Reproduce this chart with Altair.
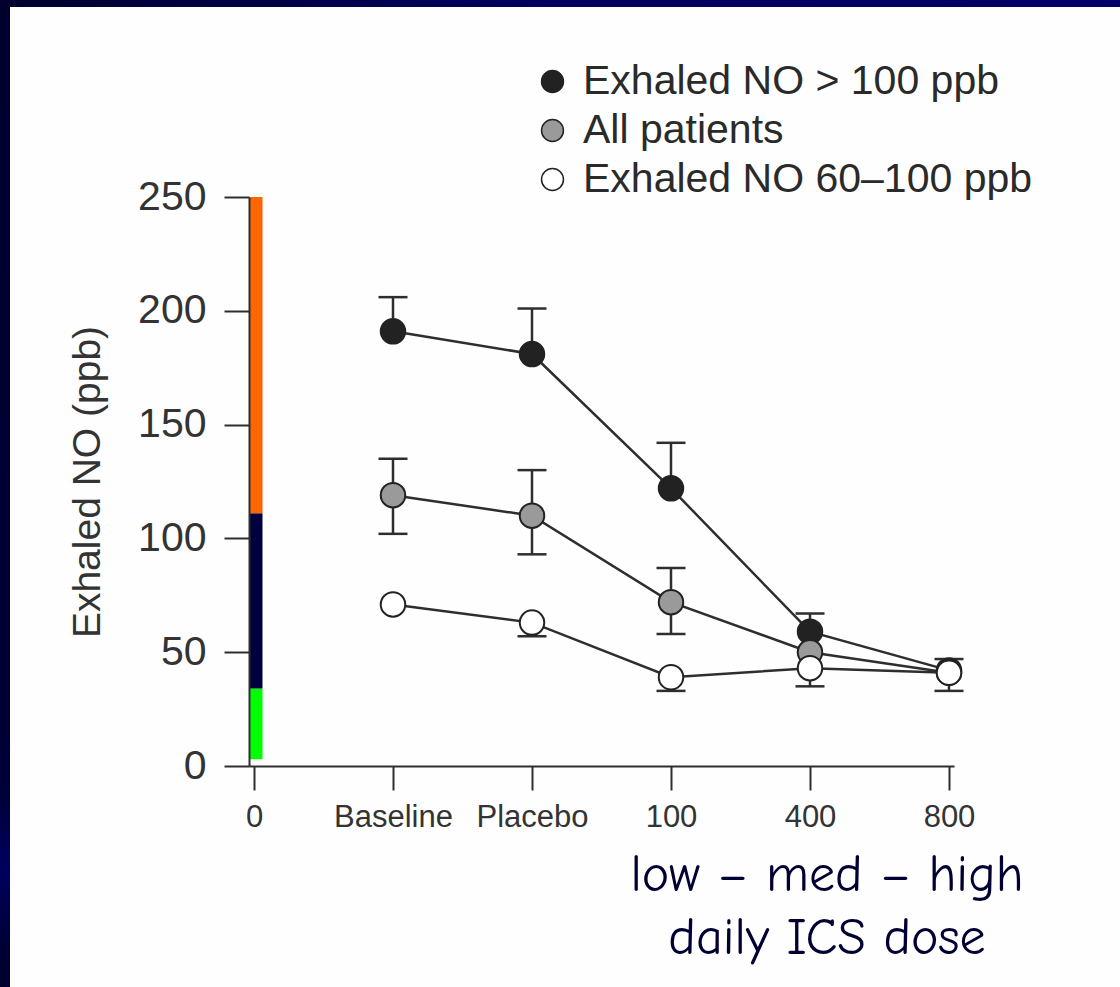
import json
import altair as alt
import pandas as pd

# ---------------- data ----------------
tick_labels = ["0", "Baseline", "Placebo", "100", "400", "800"]
positions = [1, 2, 3, 4, 5]
series_names = ["Exhaled NO > 100 ppb", "All patients", "Exhaled NO 60–100 ppb"]

high_mean = [191, 181, 122, 59, 42]
high_upper = [206, 201, 142, 67, None]
high_lower = [None, None, None, None, None]

all_mean = [119, 110, 72, 50, 41]
all_upper = [135, 130, 87, None, None]
all_lower = [102, 93, 58, None, None]

mid_mean = [71, 63, 39, 43, 41]
mid_upper = [None, None, None, None, 47]
mid_lower = [None, 57, 33, 35, 33]

band_low = [3, 34, 111]
band_high = [34, 111, 250]
band_names = ["low", "intermediate", "high"]
band_colors = ["#00ff00", "#000040", "#ff6600"]

y_ticks = [0, 50, 100, 150, 200, 250]
annotation = ["low – med – high", "daily ICS dose"]

# ---------------- tables ----------------
means = [high_mean, all_mean, mid_mean]
uppers = [high_upper, all_upper, mid_upper]
lowers = [high_lower, all_lower, mid_lower]

rows, err_rows = [], []
for s, name in enumerate(series_names):
    for i, p in enumerate(positions):
        rows.append({"series": name, "order": s, "pos": p, "value": means[s][i]})
        for b in (uppers[s][i], lowers[s][i]):
            if b is not None:
                err_rows.append({"series": name, "pos": p, "mean": means[s][i], "bound": b})
df = pd.DataFrame(rows)
err = pd.DataFrame(err_rows)
bands = pd.DataFrame({"pos": [0] * 3, "lo": band_low, "hi": band_high,
                      "band": band_names, "col": band_colors})

INK = "#2e2e2e"
FONT = "Liberation Sans"

x_enc = alt.X("pos:Q", scale=alt.Scale(domain=[0, 5], nice=False, zero=False),
              axis=alt.Axis(values=list(range(len(tick_labels))),
                            labelExpr=json.dumps(tick_labels) + "[datum.value]",
                            title=None, grid=False, tickSize=24, tickWidth=2,
                            tickColor=INK, domainColor=INK, domainWidth=2,
                            labelFontSize=31, labelFont=FONT, labelColor="#333333",
                            labelPadding=12, labelAngle=0, zindex=1))
y_scale = alt.Scale(domain=[0, 250], nice=False, zero=True)
y_axis = alt.Axis(values=y_ticks, title="Exhaled NO (ppb)", grid=False, tickSize=25,
                  tickWidth=2, tickColor=INK, domainColor=INK, domainWidth=2,
                  labelFontSize=41, labelFont=FONT, labelColor="#333333", labelPadding=18,
                  titleFontSize=39, titleFont=FONT, titleFontWeight="normal",
                  titleColor="#333333", titlePadding=30, zindex=1)

# slide frame (dark blue strips on top and left edge)
one = pd.DataFrame({"a": [0]})
top_strip = alt.Chart(one).mark_rect(
    fill=alt.Gradient(gradient="linear", x1=0, y1=0, x2=1, y2=0,
                      stops=[alt.GradientStop(color="#00002e", offset=0),
                             alt.GradientStop(color="#00005c", offset=0.45),
                             alt.GradientStop(color="#000068", offset=1)])
).encode(x=alt.value(-249), x2=alt.value(871), y=alt.value(-197), y2=alt.value(-190))
left_strip = alt.Chart(one).mark_rect(
    fill=alt.Gradient(gradient="linear", x1=0, y1=0, x2=0, y2=1,
                      stops=[alt.GradientStop(color="#00002e", offset=0),
                             alt.GradientStop(color="#000038", offset=0.8),
                             alt.GradientStop(color="#00005e", offset=0.88),
                             alt.GradientStop(color="#000036", offset=0.96),
                             alt.GradientStop(color="#00002e", offset=1)])
).encode(x=alt.value(-249), x2=alt.value(-239), y=alt.value(-197), y2=alt.value(790))

# handwritten-style annotation under the dose axis
note = alt.Chart(one).mark_text(
    text=annotation, align="center", baseline="middle", lineHeight=63,
    fontSize=52, color="#000033", font="Comic Sans MS, Comic Neue, Noto Sans"
).encode(x=alt.value(578), y=alt.value(678))

band_chart = alt.Chart(bands).mark_bar(width=13, xOffset=2).encode(
    x=x_enc,
    y=alt.Y("lo:Q", scale=y_scale, axis=y_axis),
    y2="hi:Q",
    fill=alt.Fill("col:N", scale=None),
)

err_rule = alt.Chart(err).mark_rule(color=INK, strokeWidth=2.5).encode(
    x="pos:Q", y=alt.Y("mean:Q", scale=y_scale), y2="bound:Q")
err_cap = alt.Chart(err).mark_tick(orient="horizontal", size=29, thickness=2.5,
                                   color=INK, opacity=1).encode(
    x="pos:Q", y=alt.Y("bound:Q", scale=y_scale))

lines = alt.Chart(df).mark_line(color=INK, strokeWidth=2.5).encode(
    x="pos:Q", y=alt.Y("value:Q", scale=y_scale), detail="series:N")

points = alt.Chart(df).mark_point(filled=True, shape="circle", size=600, stroke="#222222",
                                  strokeWidth=2, opacity=1, fillOpacity=1).encode(
    x="pos:Q",
    y=alt.Y("value:Q", scale=y_scale),
    fill=alt.Fill("series:N",
                  scale=alt.Scale(domain=series_names,
                                  range=["#222222", "#9a9a9a", "#ffffff"]),
                  legend=alt.Legend(orient="none", legendX=283, legendY=-136,
                                    title=None, labelFontSize=41, labelFont=FONT,
                                    labelColor="#2a2a2a", symbolType="circle",
                                    symbolSize=480, symbolStrokeColor="#222222",
                                    symbolStrokeWidth=1.5, symbolFillColor="#ffffff",
                                    rowPadding=7, labelOffset=10, labelLimit=1000,
                                    padding=0)),
    order="order:Q",
)

chart = alt.layer(top_strip, left_strip, band_chart, err_rule, err_cap, lines, points,
                  note).properties(
    width=705, height=569,
    padding={"left": 249, "top": 197, "right": 166, "bottom": 221},
    autosize=alt.AutoSizeParams(type="none"),
).configure(background="#fefefe").configure_view(stroke=None)

chart.save("out.html", embed_options={"renderer": "svg", "actions": False})
